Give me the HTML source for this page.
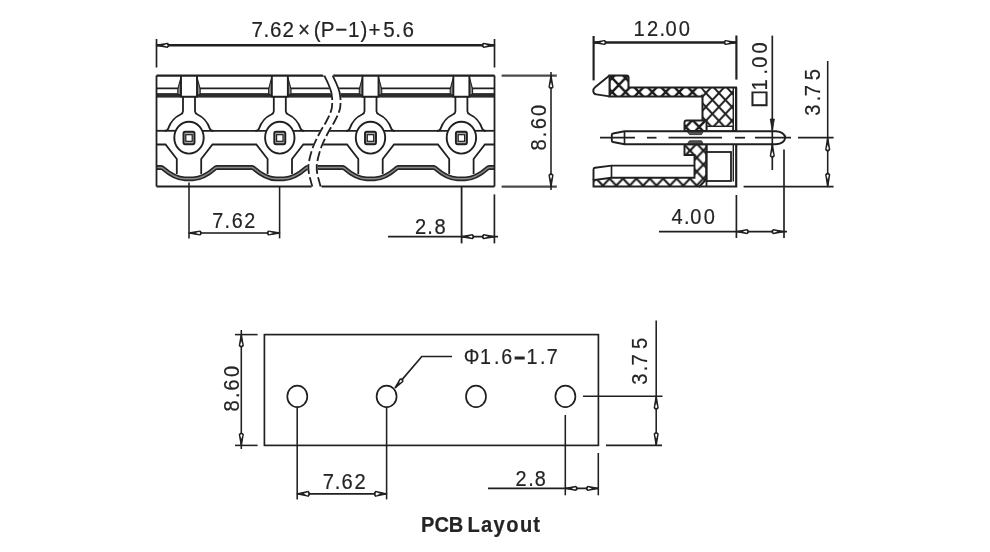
<!DOCTYPE html>
<html lang="en">
<head>
<meta charset="utf-8">
<title>PCB Layout</title>
<style>
html,body{margin:0;padding:0;background:#fff;}
body{width:990px;height:552px;overflow:hidden;}
svg{display:block;filter:blur(0.62px);}
svg text{font-family:"Liberation Sans",sans-serif;fill:#242424;stroke:#242424;stroke-width:0.2;}
</style>
</head>
<body>
<svg width="990" height="552" viewBox="0 0 990 552" stroke="#202020" fill="none">
<defs>
<pattern id="hxa" patternUnits="userSpaceOnUse" width="13.4" height="14" x="598.7" y="64">
<rect width="13.4" height="14" fill="#fff" stroke="none"/>
<path d="M0,0 L13.4,14 M13.4,0 L0,14" stroke="#1c1c1c" stroke-width="2.5"/>
</pattern>
<pattern id="hxc" patternUnits="userSpaceOnUse" width="13" height="13.9" x="692.9" y="65.2">
<rect width="13" height="13.9" fill="#fff" stroke="none"/>
<path d="M0,0 L13,13.9 M13,0 L0,13.9" stroke="#1c1c1c" stroke-width="1.9"/>
</pattern>
<pattern id="hxb" patternUnits="userSpaceOnUse" width="13.4" height="14" x="596.2" y="164.6">
<rect width="13.4" height="14" fill="#fff" stroke="none"/>
<path d="M0,0 L13.4,14 M13.4,0 L0,14" stroke="#1c1c1c" stroke-width="2.1"/>
</pattern>
</defs>
<rect x="0" y="0" width="990" height="552" fill="#fff" stroke="none"/>
<g id="front">
<line x1="156.5" y1="88.3" x2="494.5" y2="88.3" stroke-width="1.68" />
<rect x="156.5" y="93.1" width="338.0" height="4.5" fill="#2c2c2c" stroke="none"/>
<line x1="156.5" y1="130.8" x2="176" y2="130.8" stroke-width="1.8" />
<line x1="202" y1="130.8" x2="266.8" y2="130.8" stroke-width="1.8" />
<line x1="292.8" y1="130.8" x2="357.5" y2="130.8" stroke-width="1.8" />
<line x1="383.5" y1="130.8" x2="448.4" y2="130.8" stroke-width="1.8" />
<line x1="474.4" y1="130.8" x2="494.5" y2="130.8" stroke-width="1.8" />
<path d="M156.5,144.5 H165.5 L176.8,159 V174 M201.2,174 V159 L212.5,144.5 H256.3 L267.6,159 V174 M292,174 V159 L303.3,144.5 H347 L358.3,159 V174 M382.7,174 V159 L394,144.5 H437.9 L449.2,159 V174 M473.6,174 V159 L484.9,144.5 H494.5" stroke-width="1.8" fill="none" />
<path d="M156.5,167.5 H161 Q161.8,167.5 162.6,168 C169,173.6 177,178.8 185,178.8 H193 C201,178.8 209,173.6 215.4,168 Q216.2,167.5 217,167.5 H251.8 Q252.6,167.5 253.4,168 C259.8,173.6 267.8,178.8 275.8,178.8 H283.8 C291.8,178.8 299.8,173.6 306.2,168 Q307,167.5 307.8,167.5 H342.5 Q343.3,167.5 344.1,168 C350.5,173.6 358.5,178.8 366.5,178.8 H374.5 C382.5,178.8 390.5,173.6 396.9,168 Q397.7,167.5 398.5,167.5 H433.4 Q434.2,167.5 435,168 C441.4,173.6 449.4,178.8 457.4,178.8 H465.4 C473.4,178.8 481.4,173.6 487.8,168 Q488.6,167.5 489.4,167.5 H494.5" stroke="#262626" stroke-width="4.8"/>
<path d="M156.5,167.5 H161 Q161.8,167.5 162.6,168 C169,173.6 177,178.8 185,178.8 H193 C201,178.8 209,173.6 215.4,168 Q216.2,167.5 217,167.5 H251.8 Q252.6,167.5 253.4,168 C259.8,173.6 267.8,178.8 275.8,178.8 H283.8 C291.8,178.8 299.8,173.6 306.2,168 Q307,167.5 307.8,167.5 H342.5 Q343.3,167.5 344.1,168 C350.5,173.6 358.5,178.8 366.5,178.8 H374.5 C382.5,178.8 390.5,173.6 396.9,168 Q397.7,167.5 398.5,167.5 H433.4 Q434.2,167.5 435,168 C441.4,173.6 449.4,178.8 457.4,178.8 H465.4 C473.4,178.8 481.4,173.6 487.8,168 Q488.6,167.5 489.4,167.5 H494.5" stroke="#8a8a8a" stroke-width="1.5"/>
<rect x="181" y="75.6" width="16" height="21" fill="#fff" stroke="none"/>
<path d="M181,77.1 L177.8,89 V94 L181,95.5 Z" stroke-width="1.08" fill="#8c8c8c" />
<path d="M197,77.1 L200.2,89 V94 L197,95.5 Z" stroke-width="1.08" fill="#8c8c8c" />
<path d="M181,75.6 V96.6 H197 V75.6" stroke-width="1.8" fill="none" />
<path d="M183,97 V111.3 Q183,113.4 180.5,114.5 C175,117 170.5,122 168.2,128.6 Q167.4,130.8 164.5,130.8" stroke-width="1.8" fill="none" />
<path d="M195,97 V111.3 Q195,113.4 197.5,114.5 C203,117 207.5,122 209.8,128.6 Q210.6,130.8 213.5,130.8" stroke-width="1.8" fill="none" />
<ellipse cx="189" cy="137.7" rx="14.7" ry="15.9" stroke-width="1.92" fill="#fff"/>
<rect x="183.5" y="131.8" width="11" height="12.4" rx="1.6" stroke-width="1.92" fill="#aaa"/>
<rect x="185.8" y="134.7" width="6.4" height="6.6" stroke-width="1.2" fill="#fff"/>
<rect x="271.8" y="75.6" width="16" height="21" fill="#fff" stroke="none"/>
<path d="M271.8,77.1 L268.6,89 V94 L271.8,95.5 Z" stroke-width="1.08" fill="#8c8c8c" />
<path d="M287.8,77.1 L291,89 V94 L287.8,95.5 Z" stroke-width="1.08" fill="#8c8c8c" />
<path d="M271.8,75.6 V96.6 H287.8 V75.6" stroke-width="1.8" fill="none" />
<path d="M273.8,97 V111.3 Q273.8,113.4 271.3,114.5 C265.8,117 261.3,122 259,128.6 Q258.2,130.8 255.3,130.8" stroke-width="1.8" fill="none" />
<path d="M285.8,97 V111.3 Q285.8,113.4 288.3,114.5 C293.8,117 298.3,122 300.6,128.6 Q301.4,130.8 304.3,130.8" stroke-width="1.8" fill="none" />
<ellipse cx="279.8" cy="137.7" rx="14.7" ry="15.9" stroke-width="1.92" fill="#fff"/>
<rect x="274.3" y="131.8" width="11" height="12.4" rx="1.6" stroke-width="1.92" fill="#aaa"/>
<rect x="276.6" y="134.7" width="6.4" height="6.6" stroke-width="1.2" fill="#fff"/>
<rect x="362.5" y="75.6" width="16" height="21" fill="#fff" stroke="none"/>
<path d="M362.5,77.1 L359.3,89 V94 L362.5,95.5 Z" stroke-width="1.08" fill="#8c8c8c" />
<path d="M378.5,77.1 L381.7,89 V94 L378.5,95.5 Z" stroke-width="1.08" fill="#8c8c8c" />
<path d="M362.5,75.6 V96.6 H378.5 V75.6" stroke-width="1.8" fill="none" />
<path d="M364.5,97 V111.3 Q364.5,113.4 362,114.5 C356.5,117 352,122 349.7,128.6 Q348.9,130.8 346,130.8" stroke-width="1.8" fill="none" />
<path d="M376.5,97 V111.3 Q376.5,113.4 379,114.5 C384.5,117 389,122 391.3,128.6 Q392.1,130.8 395,130.8" stroke-width="1.8" fill="none" />
<ellipse cx="370.5" cy="137.7" rx="14.7" ry="15.9" stroke-width="1.92" fill="#fff"/>
<rect x="365" y="131.8" width="11" height="12.4" rx="1.6" stroke-width="1.92" fill="#aaa"/>
<rect x="367.3" y="134.7" width="6.4" height="6.6" stroke-width="1.2" fill="#fff"/>
<rect x="453.4" y="75.6" width="16" height="21" fill="#fff" stroke="none"/>
<path d="M453.4,77.1 L450.2,89 V94 L453.4,95.5 Z" stroke-width="1.08" fill="#8c8c8c" />
<path d="M469.4,77.1 L472.6,89 V94 L469.4,95.5 Z" stroke-width="1.08" fill="#8c8c8c" />
<path d="M453.4,75.6 V96.6 H469.4 V75.6" stroke-width="1.8" fill="none" />
<path d="M455.4,97 V111.3 Q455.4,113.4 452.9,114.5 C447.4,117 442.9,122 440.6,128.6 Q439.8,130.8 436.9,130.8" stroke-width="1.8" fill="none" />
<path d="M467.4,97 V111.3 Q467.4,113.4 469.9,114.5 C475.4,117 479.9,122 482.2,128.6 Q483,130.8 485.9,130.8" stroke-width="1.8" fill="none" />
<ellipse cx="461.4" cy="137.7" rx="14.7" ry="15.9" stroke-width="1.92" fill="#fff"/>
<rect x="455.9" y="131.8" width="11" height="12.4" rx="1.6" stroke-width="1.92" fill="#aaa"/>
<rect x="458.2" y="134.7" width="6.4" height="6.6" stroke-width="1.2" fill="#fff"/>
<path d="M156.5,75.6 H494.5 M156.5,186.5 H494.5" stroke-width="2.16" fill="none" />
<path d="M156.5,75.6 V186.5 M494.5,75.6 V186.5" stroke-width="1.8" fill="none" />
<path d="M323.6,74 C323.72,74.27 323.52,73.93 324.3,75.6 C325.08,77.27 327.15,81.27 328.3,84 C329.45,86.73 330.53,89.33 331.2,92 C331.87,94.67 332.2,97.33 332.3,100 C332.4,102.67 332.27,105.5 331.8,108 C331.33,110.5 330.47,112.67 329.5,115 C328.53,117.33 327.33,119.58 326,122 C324.67,124.42 322.95,126.92 321.5,129.5 C320.05,132.08 318.72,134.58 317.3,137.5 C315.88,140.42 314.22,143.75 313,147 C311.78,150.25 310.77,153.83 310,157 C309.23,160.17 308.57,163.17 308.4,166 C308.23,168.83 308.6,171.5 309,174 C309.4,176.5 310.25,178.92 310.8,181 C311.35,183.08 311.97,185.25 312.3,186.5 C312.63,187.75 312.72,188.17 312.8,188.5 L321.1,188.5 321.1,188.5 C321.02,188.17 320.93,187.75 320.6,186.5 C320.27,185.25 319.65,183.08 319.1,181 C318.55,178.92 317.7,176.5 317.3,174 C316.9,171.5 316.53,168.83 316.7,166 C316.87,163.17 317.53,160.17 318.3,157 C319.07,153.83 320.08,150.25 321.3,147 C322.52,143.75 324.18,140.42 325.6,137.5 C327.02,134.58 328.35,132.08 329.8,129.5 C331.25,126.92 332.97,124.42 334.3,122 C335.63,119.58 336.83,117.33 337.8,115 C338.77,112.67 339.63,110.5 340.1,108 C340.57,105.5 340.7,102.67 340.6,100 C340.5,97.33 340.17,94.67 339.5,92 C338.83,89.33 337.75,86.73 336.6,84 C335.45,81.27 333.38,77.27 332.6,75.6 C331.82,73.93 332.02,74.27 331.9,74 Z" fill="#fff" stroke="#fff" stroke-width="1.6"/>
<path d="M324.3,75.6 C324.97,77 327.15,81.27 328.3,84 C329.45,86.73 330.53,89.33 331.2,92 C331.87,94.67 332.12,98.67 332.3,100" stroke-width="1.8" fill="none" />
<path d="M332.6,75.6 C333.27,77 335.45,81.27 336.6,84 C337.75,86.73 338.83,89.33 339.5,92 C340.17,94.67 340.42,98.67 340.6,100" stroke-width="1.8" fill="none" />
<path d="M332.3,100 C332.22,101.33 332.27,105.5 331.8,108 C331.33,110.5 330.47,112.67 329.5,115 C328.53,117.33 327.33,119.58 326,122 C324.67,124.42 322.95,126.92 321.5,129.5 C320.05,132.08 318.72,134.58 317.3,137.5 C315.88,140.42 314.22,143.75 313,147 C311.78,150.25 310.77,153.83 310,157 C309.23,160.17 308.57,163.17 308.4,166 C308.23,168.83 308.6,171.5 309,174 C309.4,176.5 310.25,178.92 310.8,181 C311.35,183.08 312.05,185.58 312.3,186.5" stroke-width="1.8" fill="none" stroke-dasharray="10 3.2" stroke-dashoffset="-3"/>
<path d="M340.6,100 C340.52,101.33 340.57,105.5 340.1,108 C339.63,110.5 338.77,112.67 337.8,115 C336.83,117.33 335.63,119.58 334.3,122 C332.97,124.42 331.25,126.92 329.8,129.5 C328.35,132.08 327.02,134.58 325.6,137.5 C324.18,140.42 322.52,143.75 321.3,147 C320.08,150.25 319.07,153.83 318.3,157 C317.53,160.17 316.87,163.17 316.7,166 C316.53,168.83 316.9,171.5 317.3,174 C317.7,176.5 318.55,178.92 319.1,181 C319.65,183.08 320.35,185.58 320.6,186.5" stroke-width="1.8" fill="none" stroke-dasharray="10 3.2" stroke-dashoffset="-3"/>
</g>
<g id="fdims">
<line x1="156.5" y1="39" x2="156.5" y2="67.5" stroke-width="1.68" />
<line x1="494.5" y1="39" x2="494.5" y2="67.5" stroke-width="1.68" />
<line x1="156.5" y1="45.3" x2="494.5" y2="45.3" stroke-width="2.4" />
<path d="M156.5,45.3 L167.5,43.4 Q170.1,45.3 167.5,47.2 Z" fill="#222" stroke-width="1.38" stroke-linejoin="round"/>
<path d="M163,45.3 L166.9,44.15 Q168.3,45.3 166.9,46.45 Z" fill="#fff" stroke="none"/>
<path d="M494.5,45.3 L483.5,47.2 Q480.9,45.3 483.5,43.4 Z" fill="#222" stroke-width="1.38" stroke-linejoin="round"/>
<path d="M488,45.3 L484.1,46.45 Q482.7,45.3 484.1,44.15 Z" fill="#fff" stroke="none"/>
<text x="273.32 286.43 293.37 307.04 323.88 341.09 348.71 364.53 378.26 391.89 400.51 416.61 429.69 437.61" y="36.7" font-size="22.4" transform="scale(0.92 1)" >7.62×(P−1)+5.6</text>
<line x1="501.6" y1="75.6" x2="556.8" y2="75.6" stroke-width="2.28" stroke="#4a4a4a"/>
<line x1="501.6" y1="186.6" x2="556.8" y2="186.6" stroke-width="2.28" stroke="#4a4a4a"/>
<line x1="551" y1="72" x2="551" y2="190" stroke-width="1.56" />
<path d="M551,75.6 L552.9,87.1 Q551,89.7 549.1,87.1 Z" fill="#222" stroke-width="1.38" stroke-linejoin="round"/>
<path d="M551,82.35 L552.15,86.5 Q551,87.9 549.85,86.5 Z" fill="#fff" stroke="none"/>
<path d="M551,186.6 L549.1,175.1 Q551,172.5 552.9,175.1 Z" fill="#222" stroke-width="1.38" stroke-linejoin="round"/>
<path d="M551,179.85 L549.85,175.7 Q551,174.3 552.15,175.7 Z" fill="#fff" stroke="none"/>
<text x="-163.47 -149.26 -140.4 -126" y="0" font-size="21.9" transform="translate(546.2 0) rotate(-90) scale(0.92 1)" >8.60</text>
<line x1="189" y1="182.5" x2="189" y2="238.4" stroke-width="1.56" />
<line x1="279.6" y1="186.5" x2="279.6" y2="238.4" stroke-width="1.56" />
<line x1="189" y1="233" x2="279.6" y2="233" stroke-width="2.16" stroke="#505050"/>
<path d="M189,233 L200,231.1 Q202.6,233 200,234.9 Z" fill="#222" stroke-width="1.38" stroke-linejoin="round"/>
<path d="M195.5,233 L199.4,231.85 Q200.8,233 199.4,234.15 Z" fill="#fff" stroke="none"/>
<path d="M279.6,233 L268.6,234.9 Q266,233 268.6,231.1 Z" fill="#222" stroke-width="1.38" stroke-linejoin="round"/>
<path d="M273.1,233 L269.2,234.15 Q267.8,233 269.2,231.85 Z" fill="#fff" stroke="none"/>
<text x="230.64 244.06 251.89 265.56" y="227.9" font-size="21.5" transform="scale(0.92 1)" >7.62</text>
<line x1="461.6" y1="186.6" x2="461.6" y2="243.4" stroke-width="1.8" />
<line x1="494.4" y1="194.4" x2="494.4" y2="243.4" stroke-width="1.68" />
<line x1="388" y1="236.7" x2="498" y2="236.7" stroke-width="1.68" />
<path d="M461.6,236.7 L472.4,234.8 Q475,236.7 472.4,238.6 Z" fill="#222" stroke-width="1.38" stroke-linejoin="round"/>
<path d="M468,236.7 L471.8,235.55 Q473.2,236.7 471.8,237.85 Z" fill="#fff" stroke="none"/>
<path d="M494.4,236.7 L483.6,238.6 Q481,236.7 483.6,234.8 Z" fill="#222" stroke-width="1.38" stroke-linejoin="round"/>
<path d="M488,236.7 L484.2,237.85 Q482.8,236.7 484.2,235.55 Z" fill="#fff" stroke="none"/>
<text x="451.21 464.33 472.18" y="234.3" font-size="21.9" transform="scale(0.92 1)" >2.8</text>
</g>
<g id="side">
<path d="M609.5,75.6 H628.5 V87.6 H703 V96.4 H609.5 Z" fill="url(#hxa)" stroke="none"/>
<path d="M702.5,87.6 H733.3 V126 H702.5 Z" fill="url(#hxc)" stroke="none"/>
<path d="M609.5,75.6 H626.5 Q628.5,75.6 628.5,77.6 V87.6 H736 V131 H702.5 V96.4 H609.5 Z" fill="none" stroke-width="2.04"/>
<path d="M609.5,75.6 L595,87.3 Q593.2,88.8 593.3,91.2 Q593.5,94 596.2,94.4 L609.5,96.4" stroke-width="1.92" fill="#fff" />
<line x1="609.5" y1="75.6" x2="609.5" y2="96.4" stroke-width="1.92" />
<rect x="706.5" y="126.3" width="26.5" height="4.7" fill="#fff" stroke-width="1.44"/>
<path d="M684.5,131 V122.5 Q684.5,120.5 686.5,120.5 H706.5 V131 Z" fill="url(#hxa)" stroke-width="1.92"/>
<path d="M684.5,144.3 H706.5 V179 L699.5,186.5 H593.5 V180 L611.5,177.8 H694.5 V155 H684.5 Z" fill="url(#hxb)" stroke-width="1.92"/>
<path d="M593.5,180 V169.5 Q593.5,168 595,167.8 L611.5,165.6 H694.5" stroke-width="1.92" fill="none" />
<line x1="611.5" y1="165.6" x2="611.5" y2="177.8" stroke-width="1.68" />
<rect x="706.5" y="152" width="24.5" height="29" fill="#fff" stroke-width="1.8"/>
<line x1="706.5" y1="144.3" x2="706.5" y2="186.5" stroke-width="1.8" />
<path d="M733.3,87.6 V181.5" stroke-width="1.44" fill="none" />
<path d="M736.2,87.6 V186.5 H699" stroke-width="2.16" fill="none" />
<path d="M624.5,131.2 H776 C781,131.6 784.6,133.6 785.3,137.7 C784.6,142 781,144 776,144.3 H624.5 L613,142 Q611.8,141.8 611.8,140.5 V135 Q611.8,133.7 613,133.5 Z" fill="#fff" stroke-width="1.92"/>
<line x1="624.5" y1="131.2" x2="624.5" y2="144.2" stroke-width="1.68" />
<path d="M687.5,131.8 H703 L701.5,134.6 H689.5 Z" fill="#555" stroke-width="0.8"/>
<path d="M687.5,143.6 H703 L701.5,140.8 H689.5 Z" fill="#555" stroke-width="0.8"/>
<line x1="600" y1="137.7" x2="635" y2="137.7" stroke-width="1.8" />
<line x1="647" y1="137.7" x2="656.5" y2="137.7" stroke-width="1.8" />
<line x1="668.5" y1="137.7" x2="722" y2="137.7" stroke-width="1.8" />
<line x1="735" y1="137.7" x2="745" y2="137.7" stroke-width="1.8" />
<line x1="755" y1="137.7" x2="791" y2="137.7" stroke-width="1.8" />
<line x1="798" y1="137.7" x2="833.6" y2="137.7" stroke-width="1.8" />
</g>
<g id="sdims">
<line x1="593.6" y1="36" x2="593.6" y2="80.4" stroke-width="2.16" />
<line x1="736.4" y1="35.5" x2="736.4" y2="79.6" stroke-width="2.16" />
<line x1="593.6" y1="42.5" x2="736.4" y2="42.5" stroke-width="2.64" />
<path d="M593.6,42.5 L604.6,40.6 Q607.2,42.5 604.6,44.4 Z" fill="#222" stroke-width="1.38" stroke-linejoin="round"/>
<path d="M600.1,42.5 L604,41.35 Q605.4,42.5 604,43.65 Z" fill="#fff" stroke="none"/>
<path d="M736.4,42.5 L725.4,44.4 Q722.8,42.5 725.4,40.6 Z" fill="#222" stroke-width="1.38" stroke-linejoin="round"/>
<path d="M729.9,42.5 L726,43.65 Q724.6,42.5 726,41.35 Z" fill="#fff" stroke="none"/>
<text x="688.51 703.16 716.83 723.35 737.7" y="35.8" font-size="21.9" transform="scale(0.92 1)" >12.00</text>
<line x1="772.3" y1="35.6" x2="772.3" y2="170" stroke-width="1.68" />
<path d="M772.3,131 L770.2,119 H774.4 Z" fill="#222" stroke-width="0.8"/>
<path d="M772.3,144.3 L774.2,155.8 Q772.3,158.4 770.4,155.8 Z" fill="#222" stroke-width="1.38" stroke-linejoin="round"/>
<path d="M772.3,151.05 L773.45,155.2 Q772.3,156.6 771.15,155.2 Z" fill="#fff" stroke="none"/>
<text x="-114.98 -98.33 -81 -73.71 -58.28" y="0" font-size="21.9" transform="translate(767 0) rotate(-90) scale(0.92 1)" ><tspan font-size="25.2" stroke-width="1.1">□</tspan>1.00</text>
<line x1="827.7" y1="61" x2="827.7" y2="186.6" stroke-width="1.56" />
<line x1="743.6" y1="186.6" x2="833.6" y2="186.6" stroke-width="1.56" />
<path d="M827.7,137.7 L829.6,149.7 Q827.7,152.3 825.8,149.7 Z" fill="#222" stroke-width="1.38" stroke-linejoin="round"/>
<path d="M827.7,144.7 L828.85,149.1 Q827.7,150.5 826.55,149.1 Z" fill="#fff" stroke="none"/>
<path d="M827.7,186.6 L825.8,174.6 Q827.7,172 829.6,174.6 Z" fill="#222" stroke-width="1.38" stroke-linejoin="round"/>
<path d="M827.7,179.6 L826.55,175.2 Q827.7,173.8 828.85,175.2 Z" fill="#fff" stroke="none"/>
<text x="-125.91 -110.13 -104.69 -87.16" y="0" font-size="21.9" transform="translate(819.6 0) rotate(-90) scale(0.92 1)" >3.75</text>
<line x1="736.4" y1="195" x2="736.4" y2="238" stroke-width="1.68" />
<line x1="784" y1="149.6" x2="784" y2="238" stroke-width="1.68" />
<line x1="659" y1="231.6" x2="787" y2="231.6" stroke-width="1.68" />
<path d="M736.4,231.6 L747.2,229.7 Q749.8,231.6 747.2,233.5 Z" fill="#222" stroke-width="1.38" stroke-linejoin="round"/>
<path d="M742.8,231.6 L746.6,230.45 Q748,231.6 746.6,232.75 Z" fill="#fff" stroke="none"/>
<path d="M784,231.6 L773.2,233.5 Q770.6,231.6 773.2,229.7 Z" fill="#222" stroke-width="1.38" stroke-linejoin="round"/>
<path d="M777.6,231.6 L773.8,232.75 Q772.4,231.6 773.8,230.45 Z" fill="#fff" stroke="none"/>
<text x="729.87 743.47 750.34 764.9" y="224" font-size="21.8" transform="scale(0.92 1)" >4.00</text>
</g>
<g id="pcb">
<rect x="264.4" y="334.6" width="334" height="110.8" fill="none" stroke-width="1.68"/>
<ellipse cx="297.3" cy="396.4" rx="10" ry="10.8" fill="#fff" stroke-width="1.68"/>
<ellipse cx="386.6" cy="396.4" rx="10" ry="10.8" fill="#fff" stroke-width="1.68"/>
<ellipse cx="476" cy="396.4" rx="10" ry="10.8" fill="#fff" stroke-width="1.68"/>
<ellipse cx="565.4" cy="396.4" rx="10" ry="10.8" fill="#fff" stroke-width="1.68"/>
<line x1="235" y1="334.6" x2="257.6" y2="334.6" stroke-width="1.56" />
<line x1="235" y1="445.4" x2="257.6" y2="445.4" stroke-width="1.56" />
<line x1="241.3" y1="330" x2="241.3" y2="449" stroke-width="1.56" />
<path d="M241.3,334.6 L243.2,345.6 Q241.3,348.2 239.4,345.6 Z" fill="#222" stroke-width="1.38" stroke-linejoin="round"/>
<path d="M241.3,341.1 L242.45,345 Q241.3,346.4 240.15,345 Z" fill="#fff" stroke="none"/>
<path d="M241.3,445.4 L239.4,434.4 Q241.3,431.8 243.2,434.4 Z" fill="#222" stroke-width="1.38" stroke-linejoin="round"/>
<path d="M241.3,438.9 L240.15,435 Q241.3,433.6 242.45,435 Z" fill="#fff" stroke="none"/>
<text x="-447.27 -432.74 -424.75 -409.91" y="0" font-size="21.9" transform="translate(238.6 0) rotate(-90) scale(0.92 1)" >8.60</text>
<line x1="297.2" y1="407.5" x2="297.2" y2="499.4" stroke-width="1.56" />
<line x1="386.6" y1="407.5" x2="386.6" y2="499.4" stroke-width="1.56" />
<line x1="297.2" y1="493.8" x2="386.6" y2="493.8" stroke-width="1.68" />
<path d="M297.2,493.8 L308.2,491.4 Q310.8,493.8 308.2,496.2 Z" fill="#222" stroke-width="1.38" stroke-linejoin="round"/>
<path d="M303.7,493.8 L307.6,492.15 Q309,493.8 307.6,495.45 Z" fill="#fff" stroke="none"/>
<path d="M386.6,493.8 L375.6,496.2 Q373,493.8 375.6,491.4 Z" fill="#222" stroke-width="1.38" stroke-linejoin="round"/>
<path d="M380.1,493.8 L376.2,495.45 Q374.8,493.8 376.2,492.15 Z" fill="#fff" stroke="none"/>
<text x="350.85 364 371.34 385.23" y="489" font-size="21.9" transform="scale(0.92 1)" >7.62</text>
<path d="M452,356.5 H421.8 L395,387.9" stroke-width="1.68" fill="none" />
<path d="M395.3,387.6 L400.08,379.19 Q403.14,378.38 402.83,381.53 Z" fill="#222" stroke-width="1.38" stroke-linejoin="round"/>
<path d="M399.03,383.22 L400.27,380.14 Q401.97,379.75 401.87,381.5 Z" fill="#fff" stroke="none"/>
<text x="504.18 521.81 536.9 544.96 559.34 572.25 587 594.25" y="364 364 364 364 363.4 364 364 364" font-size="21.4" transform="scale(0.92 1)" >Φ1.6<tspan font-weight="bold" font-size="20" stroke-width="1">–</tspan>1.7</text>
<line x1="583" y1="396.3" x2="662.5" y2="396.3" stroke-width="1.56" />
<line x1="606" y1="445.4" x2="662" y2="445.4" stroke-width="1.56" />
<line x1="656.2" y1="320.5" x2="656.2" y2="446" stroke-width="1.56" />
<path d="M656.2,396.3 L658.1,407.8 Q656.2,410.4 654.3,407.8 Z" fill="#222" stroke-width="1.38" stroke-linejoin="round"/>
<path d="M656.2,403.05 L657.35,407.2 Q656.2,408.6 655.05,407.2 Z" fill="#fff" stroke="none"/>
<path d="M656.2,445.4 L654.3,433.9 Q656.2,431.3 658.1,433.9 Z" fill="#222" stroke-width="1.38" stroke-linejoin="round"/>
<path d="M656.2,438.65 L655.05,434.5 Q656.2,433.1 657.35,434.5 Z" fill="#fff" stroke="none"/>
<text x="-418.31 -403.61 -397.19 -379.45" y="0" font-size="21.9" transform="translate(647.4 0) rotate(-90) scale(0.92 1)" >3.75</text>
<line x1="565.3" y1="415" x2="565.3" y2="495.3" stroke-width="1.56" />
<line x1="598.3" y1="453" x2="598.3" y2="495.3" stroke-width="1.56" />
<line x1="488" y1="488.4" x2="598.3" y2="488.4" stroke-width="1.56" />
<path d="M565.3,488.4 L575.9,486.5 Q578.5,488.4 575.9,490.3 Z" fill="#222" stroke-width="1.38" stroke-linejoin="round"/>
<path d="M571.6,488.4 L575.3,487.25 Q576.7,488.4 575.3,489.55 Z" fill="#fff" stroke="none"/>
<path d="M598.3,488.4 L587.7,490.3 Q585.1,488.4 587.7,486.5 Z" fill="#222" stroke-width="1.38" stroke-linejoin="round"/>
<path d="M592,488.4 L588.3,489.55 Q586.9,488.4 588.3,487.25 Z" fill="#fff" stroke="none"/>
<text x="560.42 574.26 581.18" y="485.9" font-size="21.6" transform="scale(0.92 1)" >2.8</text>
<text x="452.66 467.22 482.49 494.83 502.58 517.15 530.75 544.46 559.25 573.51" y="531.7" font-size="21.6" font-weight="bold" transform="scale(0.93 1)" fill="#111">PCB Layout</text>
</g>
</svg>
</body>
</html>
